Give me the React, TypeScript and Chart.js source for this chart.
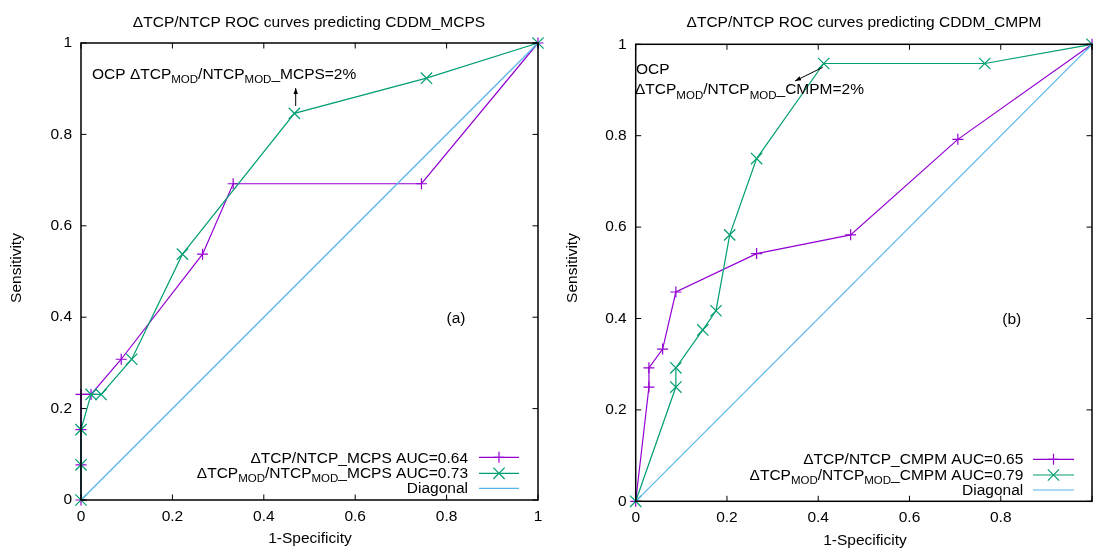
import React, { useEffect, useRef } from "react";
import { Chart, registerables } from "chart.js";

Chart.register(...registerables);

const FONT = '"Liberation Sans", Arial, Helvetica, sans-serif';
const PURPLE = "#9400D3";
const GREEN = "#009E73";
const BLUE = "#56B4E9";

// axis ticks
const tickValues = [0, 0.2, 0.4, 0.6, 0.8, 1];
const tickLabels = ["0", "0.2", "0.4", "0.6", "0.8", "1"];

// Panel (a): CDDM_MCPS
const mcpsTcpX = [0, 0, 0, 0, 0.022, 0.088, 0.266, 0.333, 0.745, 1];
const mcpsTcpY = [0, 0.077, 0.154, 0.231, 0.231, 0.308, 0.538, 0.692, 0.692, 1];
const mcpsModX = [0, 0, 0, 0.022, 0.044, 0.111, 0.222, 0.467, 0.756, 1];
const mcpsModY = [0, 0.077, 0.154, 0.231, 0.231, 0.308, 0.538, 0.846, 0.923, 1];

// Panel (b): CDDM_CMPM
const cmpmTcpX = [0, 0.029, 0.029, 0.059, 0.088, 0.265, 0.471, 0.706, 1];
const cmpmTcpY = [0, 0.25, 0.292, 0.333, 0.458, 0.542, 0.583, 0.792, 1];
const cmpmModX = [0, 0.088, 0.088, 0.147, 0.176, 0.206, 0.265, 0.412, 0.765, 1];
const cmpmModY = [0, 0.25, 0.292, 0.375, 0.417, 0.583, 0.75, 0.958, 0.958, 1];

const diagX = [0, 1];
const diagY = [0, 1];

const titles = [
  "\u0394TCP/NTCP ROC curves predicting CDDM_MCPS",
  "\u0394TCP/NTCP ROC curves predicting CDDM_CMPM",
];
const xTitle = "1-Specificity";
const yTitle = "Sensitivity";
const panelTags = ["(a)", "(b)"];

type Seg = [string, boolean];

const legendA: Seg[][] = [
  [["\u0394TCP/NTCP_MCPS AUC=0.64", false]],
  [["\u0394TCP", false], ["MOD", true], ["/NTCP", false], ["MOD", true], ["_MCPS AUC=0.73", false]],
  [["Diagonal", false]],
];
const legendB: Seg[][] = [
  [["\u0394TCP/NTCP_CMPM AUC=0.65", false]],
  [["\u0394TCP", false], ["MOD", true], ["/NTCP", false], ["MOD", true], ["_CMPM AUC=0.79", false]],
  [["Diagonal", false]],
];
const annotA: Seg[] = [["OCP \u0394TCP", false], ["MOD", true], ["/NTCP", false], ["MOD", true], ["_MCPS=2%", false]];
const annotB1: Seg[] = [["OCP", false]];
const annotB2: Seg[] = [["\u0394TCP", false], ["MOD", true], ["/NTCP", false], ["MOD", true], ["_CMPM=2%", false]];

const MAIN = 15.5;
const SUB = 11.5;

function drawRich(ctx: CanvasRenderingContext2D, segs: Seg[], x: number, y: number, align: "left" | "right") {
  let total = 0;
  const widths: number[] = [];
  for (const [t, sub] of segs) {
    ctx.font = `${sub ? SUB : MAIN}px ${FONT}`;
    const w = ctx.measureText(t).width;
    widths.push(w);
    total += w;
  }
  let cx = align === "right" ? x - total : x;
  ctx.textAlign = "left";
  ctx.textBaseline = "alphabetic";
  ctx.fillStyle = "#000";
  segs.forEach(([t, sub], i) => {
    ctx.font = `${sub ? SUB : MAIN}px ${FONT}`;
    ctx.fillText(t, cx, sub ? y + 4.5 : y);
    cx += widths[i];
  });
}

function drawArrow(ctx: CanvasRenderingContext2D, x1: number, y1: number, x2: number, y2: number) {
  ctx.save();
  ctx.strokeStyle = "#000";
  ctx.fillStyle = "#000";
  ctx.lineWidth = 1;
  ctx.beginPath();
  ctx.moveTo(x1, y1);
  ctx.lineTo(x2, y2);
  ctx.stroke();
  const a = Math.atan2(y2 - y1, x2 - x1);
  const L = 6, W = 2.2;
  ctx.beginPath();
  ctx.moveTo(x2, y2);
  ctx.lineTo(x2 - L * Math.cos(a) + W * Math.sin(a), y2 - L * Math.sin(a) - W * Math.cos(a));
  ctx.lineTo(x2 - L * Math.cos(a) - W * Math.sin(a), y2 - L * Math.sin(a) + W * Math.cos(a));
  ctx.closePath();
  ctx.fill();
  ctx.restore();
}

function drawMarker(ctx: CanvasRenderingContext2D, kind: "plus" | "x", x: number, y: number, color: string) {
  ctx.save();
  ctx.strokeStyle = color;
  ctx.lineWidth = 1.2;
  ctx.beginPath();
  if (kind === "plus") {
    ctx.moveTo(x - 5.5, y); ctx.lineTo(x + 5.5, y);
    ctx.moveTo(x, y - 5.5); ctx.lineTo(x, y + 5.5);
  } else {
    const d = 5.66;
    ctx.moveTo(x - d, y - d); ctx.lineTo(x + d, y + d);
    ctx.moveTo(x - d, y + d); ctx.lineTo(x + d, y - d);
  }
  ctx.stroke();
  ctx.restore();
}

type Spec = {
  key: string;
  canvasLeft: number;
  width: number;
  areaLeft: number;
  areaTop: number;
  rightPad: number;
  bottomH: number;
  hideLastX: boolean;
  tcpX: number[]; tcpY: number[]; modX: number[]; modY: number[];
  tcpLabel: string; modLabel: string;
  draw: (ctx: CanvasRenderingContext2D, chart: any) => void;
};

function overlayPlugin(spec: Spec) {
  return {
    id: "overlay" + spec.key,
    afterDatasetsDraw(chart: any) {
      const ctx: CanvasRenderingContext2D = chart.ctx;
      const { left, right, top, bottom } = chart.chartArea;
      const xs = chart.scales.x, ys = chart.scales.y;
      ctx.save();
      ctx.strokeStyle = "#000";
      ctx.lineWidth = 1;
      const T = 5.5;
      ctx.beginPath();
      for (const v of tickValues) {
        const px = xs.getPixelForValue(v);
        const py = ys.getPixelForValue(v);
        ctx.moveTo(px, bottom); ctx.lineTo(px, bottom - T);
        ctx.moveTo(px, top); ctx.lineTo(px, top + T);
        ctx.moveTo(left, py); ctx.lineTo(left + T, py);
        ctx.moveTo(right, py); ctx.lineTo(right - T, py);
      }
      ctx.stroke();
      ctx.lineWidth = 1.5;
      ctx.strokeRect(left, top, right - left, bottom - top);
      ctx.restore();
    },
    afterDraw(chart: any) {
      const ctx: CanvasRenderingContext2D = chart.ctx;
      ctx.save();
      spec.draw(ctx, chart);
      ctx.restore();
    },
  };
}

function centerText(ctx: CanvasRenderingContext2D, t: string, x: number, y: number, base: CanvasTextBaseline = "alphabetic") {
  ctx.font = `${MAIN}px ${FONT}`;
  ctx.fillStyle = "#000";
  ctx.textAlign = "center";
  ctx.textBaseline = base;
  ctx.fillText(t, x, y);
}

function drawLegend(ctx: CanvasRenderingContext2D, rows: Seg[][], textRight: number, baselines: number[], lineYs: number[], lx1: number, lx2: number) {
  const colors = [PURPLE, GREEN, BLUE];
  rows.forEach((segs, i) => {
    drawRich(ctx, segs, textRight, baselines[i], "right");
    ctx.save();
    ctx.strokeStyle = colors[i];
    ctx.lineWidth = 1.2;
    ctx.beginPath();
    ctx.moveTo(lx1, lineYs[i]);
    ctx.lineTo(lx2, lineYs[i]);
    ctx.stroke();
    ctx.restore();
    if (i === 0) drawMarker(ctx, "plus", (lx1 + lx2) / 2, lineYs[i], PURPLE);
    if (i === 1) drawMarker(ctx, "x", (lx1 + lx2) / 2, lineYs[i], GREEN);
  });
}

function drawYTitle(ctx: CanvasRenderingContext2D, x: number, y: number) {
  ctx.save();
  ctx.translate(x, y);
  ctx.rotate(-Math.PI / 2);
  centerText(ctx, yTitle, 0, 0, "middle");
  ctx.restore();
}

const specA: Spec = {
  key: "a",
  canvasLeft: 0,
  width: 546,
  areaLeft: 81,
  areaTop: 43,
  rightPad: 8,
  bottomH: 48,
  hideLastX: false,
  tcpX: mcpsTcpX, tcpY: mcpsTcpY, modX: mcpsModX, modY: mcpsModY,
  tcpLabel: "TCP_MCPS", modLabel: "MOD_MCPS",
  draw: (ctx) => {
    centerText(ctx, titles[0], 309, 26.5);
    centerText(ctx, xTitle, 310, 542.5);
    drawYTitle(ctx, 17, 268);
    drawRich(ctx, annotA, 92, 78.5, "left");
    drawArrow(ctx, 295.7, 106, 295.7, 88);
    centerText(ctx, panelTags[0], 456, 318.5, "middle");
    drawLegend(ctx, legendA, 468, [462.5, 477.5, 493], [457.3, 473.3, 488.3], 479, 519);
  },
};

const specB: Spec = {
  key: "b",
  canvasLeft: 546,
  width: 547,
  areaLeft: 89.7,
  areaTop: 44.3,
  rightPad: 1,
  bottomH: 46.7,
  hideLastX: true,
  tcpX: cmpmTcpX, tcpY: cmpmTcpY, modX: cmpmModX, modY: cmpmModY,
  tcpLabel: "TCP_CMPM", modLabel: "MOD_CMPM",
  draw: (ctx) => {
    centerText(ctx, titles[1], 318, 27);
    centerText(ctx, xTitle, 319, 545);
    drawYTitle(ctx, 27, 268);
    drawRich(ctx, annotB1, 90, 73.5, "left");
    drawRich(ctx, annotB2, 89, 94, "left");
    drawArrow(ctx, 276.7, 67.3, 249, 81);
    centerText(ctx, panelTags[1], 465.7, 320, "middle");
    drawLegend(ctx, legendB, 477.3, [464, 479.5, 495], [459.3, 475, 490], 487, 528);
  },
};

function toPts(xs: number[], ys: number[]) {
  return xs.map((x, i) => ({ x, y: ys[i] }));
}

function Panel({ spec }: { spec: Spec }) {
  const ref = useRef<HTMLCanvasElement>(null);
  useEffect(() => {
    const tickFont = { family: FONT, size: MAIN };
    const labelFor = (v: number) => {
      const i = tickValues.findIndex((t) => Math.abs(t - v) < 1e-6);
      return i >= 0 ? tickLabels[i] : "";
    };
    const chart = new Chart(ref.current as HTMLCanvasElement, {
      type: "scatter",
      data: {
        datasets: [
          {
            label: spec.tcpLabel,
            data: toPts(spec.tcpX, spec.tcpY),
            showLine: true,
            borderColor: PURPLE,
            backgroundColor: PURPLE,
            borderWidth: 1.2,
            pointStyle: "cross",
            pointRadius: 5.5,
            pointBorderWidth: 1.2,
            pointBorderColor: PURPLE,
            clip: false,
            order: 3,
          } as any,
          {
            label: spec.modLabel,
            data: toPts(spec.modX, spec.modY),
            showLine: true,
            borderColor: GREEN,
            backgroundColor: GREEN,
            borderWidth: 1.2,
            pointStyle: "crossRot",
            pointRadius: 8,
            pointBorderWidth: 1.2,
            pointBorderColor: GREEN,
            clip: false,
            order: 2,
          } as any,
          {
            label: "Diagonal",
            data: toPts(diagX, diagY),
            showLine: true,
            borderColor: BLUE,
            backgroundColor: BLUE,
            borderWidth: 1.2,
            pointRadius: 0,
            clip: false,
            order: 1,
          } as any,
        ],
      },
      options: {
        responsive: false,
        animation: false,
        devicePixelRatio: 1,
        layout: { autoPadding: false, padding: { left: 0, top: spec.areaTop, right: spec.rightPad, bottom: 0 } },
        plugins: {
          legend: { display: false },
          title: { display: false },
          tooltip: { enabled: false },
        },
        events: [],
        scales: {
          x: {
            type: "linear",
            min: 0,
            max: 1,
            afterFit: (s: any) => { s.height = spec.bottomH; s.paddingLeft = 0; s.paddingRight = 0; },
            afterBuildTicks: (s: any) => { s.ticks = tickValues.map((v) => ({ value: v })); },
            grid: { display: false, drawTicks: false },
            border: { display: false },
            ticks: {
              font: tickFont,
              color: "#000",
              padding: 7,
              maxRotation: 0,
              autoSkip: false,
              callback: (v: any) => (spec.hideLastX && Math.abs(v - 1) < 1e-6 ? "" : labelFor(v)),
            },
          },
          y: {
            type: "linear",
            min: 0,
            max: 1,
            afterFit: (s: any) => { s.width = spec.areaLeft; s.paddingTop = 0; s.paddingBottom = 0; },
            afterBuildTicks: (s: any) => { s.ticks = tickValues.map((v) => ({ value: v })); },
            grid: { display: false, drawTicks: false },
            border: { display: false },
            ticks: {
              font: tickFont,
              color: "#000",
              padding: 9,
              autoSkip: false,
              callback: (v: any) => labelFor(v),
            },
          },
        },
      } as any,
      plugins: [overlayPlugin(spec)],
    });
    return () => chart.destroy();
  }, [spec]);
  return (
    <canvas
      ref={ref}
      width={spec.width}
      height={548}
      style={{ position: "absolute", left: spec.canvasLeft, top: 0, width: spec.width, height: 548 }}
    />
  );
}

export default function App() {
  return (
    <div style={{ position: "fixed", left: 0, top: 0, width: 1093, height: 548, background: "#fff", overflow: "hidden" }}>
      <Panel spec={specA} />
      <Panel spec={specB} />
    </div>
  );
}
